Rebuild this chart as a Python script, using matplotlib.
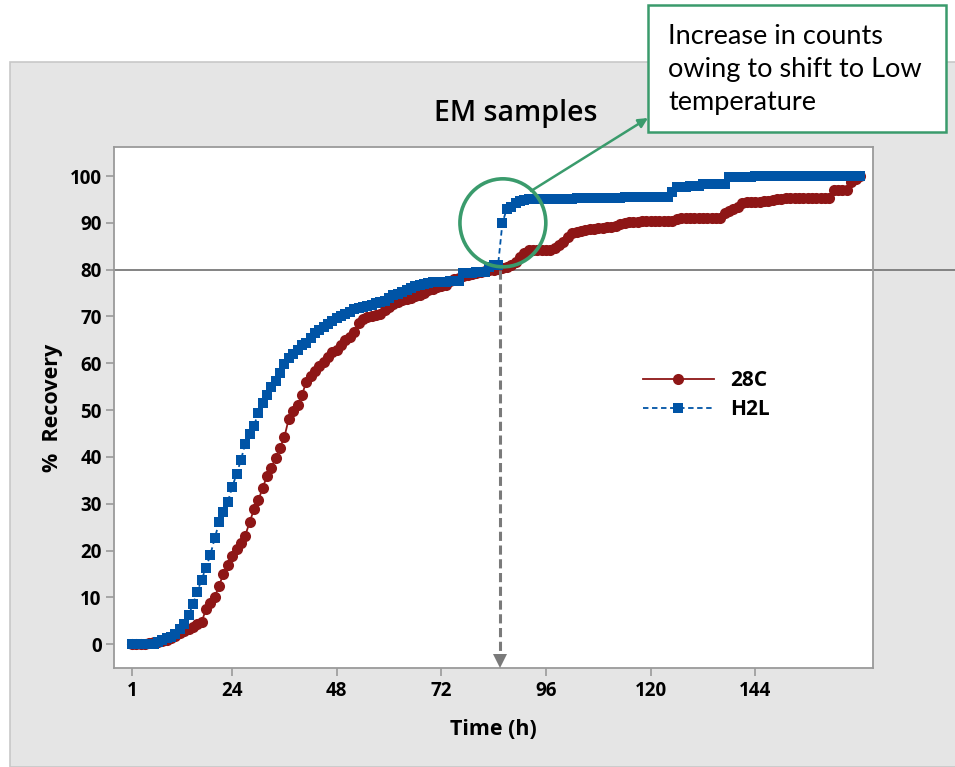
import numpy as np
import matplotlib
matplotlib.use("Agg")
import matplotlib.pyplot as plt
from matplotlib.patches import Rectangle, Ellipse, FancyArrowPatch

# hourly cumulative recovery (%) for the two EM sample conditions
hours = np.arange(1, 169)

rec_28c = [
    0.0, 0.0, 0.0, 0.0, 0.2, 0.4, 0.5, 0.7, 0.9, 1.3, 1.8, 2.3,
    2.8, 3.2, 3.6, 4.4, 4.7, 7.5, 8.8, 10.0, 12.5, 15.0, 17.0, 18.8,
    20.3, 21.6, 23.2, 26.0, 28.8, 30.7, 33.4, 35.9, 37.7, 39.8, 42.0, 44.3,
    48.2, 49.7, 51.0, 53.2, 56.0, 57.2, 58.3, 59.4, 60.2, 61.3, 62.3, 62.8,
    64.0, 65.0, 65.7, 66.7, 68.6, 69.4, 69.8, 70.0, 70.3, 70.6, 71.3, 72.0,
    72.6, 73.1, 73.5, 73.8, 74.0, 74.3, 74.6, 75.0, 75.6, 75.9, 76.2, 76.5,
    76.8, 77.6, 78.0, 78.3, 78.6, 78.9, 79.1, 79.3, 79.5, 79.7, 79.9, 80.0,
    80.1, 80.3, 80.6, 80.9, 81.6, 82.7, 83.6, 84.1, 84.2, 84.2, 84.2, 84.3,
    84.3, 84.6, 85.2, 85.9, 87.0, 87.8, 88.1, 88.3, 88.5, 88.6, 88.7, 88.8,
    88.9, 89.1, 89.2, 89.4, 89.7, 90.0, 90.2, 90.2, 90.2, 90.3, 90.3, 90.3,
    90.3, 90.3, 90.4, 90.4, 90.4, 90.8, 91.0, 91.0, 91.0, 91.0, 91.0, 91.0,
    91.0, 91.0, 91.0, 91.0, 92.2, 92.5, 92.9, 93.3, 94.3, 94.4, 94.4, 94.5,
    94.5, 94.6, 94.7, 94.8, 95.0, 95.1, 95.2, 95.2, 95.3, 95.3, 95.3, 95.3,
    95.3, 95.3, 95.3, 95.3, 95.3, 97.0, 97.0, 97.0, 97.0, 98.7, 99.4, 100.0,
]

rec_h2l = [
    0.0, 0.0, 0.0, 0.0, 0.0, 0.1, 0.5, 0.9, 1.3, 1.5, 2.2, 3.2,
    4.3, 6.2, 8.5, 11.2, 13.8, 16.3, 19.1, 22.6, 26.0, 28.3, 30.4, 33.5,
    36.3, 39.3, 42.8, 44.8, 46.7, 49.3, 51.6, 53.3, 55.0, 56.3, 58.0, 59.8,
    61.2, 62.0, 62.9, 63.8, 64.4, 65.5, 66.4, 67.1, 67.8, 68.4, 69.1, 69.6,
    70.1, 70.6, 71.0, 71.5, 71.9, 72.0, 72.2, 72.5, 72.8, 73.1, 73.4, 73.9,
    74.6, 74.9, 75.2, 75.6, 76.0, 76.4, 76.7, 77.0, 77.2, 77.3, 77.4, 77.4,
    77.4, 77.5, 77.5, 77.6, 79.2, 79.3, 79.3, 79.4, 79.5, 79.6, 80.6, 80.9,
    81.0, 90.0, 93.0, 93.4, 94.2, 94.6, 94.8, 95.0, 95.0, 95.0, 95.0, 95.0,
    95.0, 95.1, 95.1, 95.1, 95.1, 95.1, 95.2, 95.2, 95.3, 95.4, 95.4, 95.4,
    95.4, 95.4, 95.4, 95.4, 95.4, 95.5, 95.5, 95.5, 95.5, 95.5, 95.5, 95.5,
    95.5, 95.5, 95.5, 95.6, 96.6, 97.6, 97.7, 97.7, 97.8, 97.8, 97.8, 98.2,
    98.3, 98.3, 98.3, 98.4, 98.4, 99.8, 99.8, 99.8, 99.8, 99.8, 99.8, 99.9,
    99.9, 99.9, 99.9, 99.9, 99.9, 99.9, 99.9, 99.9, 99.9, 99.9, 99.9, 99.9,
    99.9, 99.9, 99.9, 99.9, 99.9, 99.9, 99.9, 99.9, 99.9, 99.9, 99.9, 100.0,
]

x_ticks = [1, 24, 48, 72, 96, 120, 144]
y_ticks = [0, 10, 20, 30, 40, 50, 60, 70, 80, 90, 100]

threshold = 80          # recovery level marked across the plot
shift_hour = 85.4       # time when incubation moved to low temperature

RED = "#8e1616"
BLUE = "#0054a6"
GREEN = "#3a9b6c"
FRAME = "#9a9a9a"

plt.rcParams["font.family"] = ["Open Sans", "DejaVu Sans"]

fig = plt.figure(figsize=(9.55, 7.67), dpi=100)

# grey Minitab-style background panel
fig.patches.append(Rectangle((10 / 955, 0), 1.0, 1 - 62 / 767, transform=fig.transFigure,
                             facecolor="#e5e5e5", edgecolor="#c8c8c8", linewidth=1.2, zorder=-5))

ax = fig.add_axes([114 / 955, 1 - 668 / 767, 759 / 955, 521 / 767])
ax.set_facecolor("white")

ax.plot(hours, rec_28c, color=RED, linestyle="-", linewidth=1.3, marker="o",
        markersize=8, markeredgewidth=0, label="28C", zorder=3)
ax.plot(hours, rec_h2l, color=BLUE, linestyle=(0, (3, 2)), linewidth=1.3, marker="s",
        markersize=7.3, markeredgewidth=0, label="H2L", zorder=4)

ax.set_xlim(-3.1, 171)
ax.set_ylim(-5.1, 106.2)
ax.set_xticks(x_ticks)
ax.set_yticks(y_ticks)
ax.tick_params(axis="both", direction="out", length=6, width=1.2, color=FRAME,
               labelsize=13.5, pad=3)
for lbl in ax.get_xticklabels() + ax.get_yticklabels():
    lbl.set_fontweight("bold")
for sp in ax.spines.values():
    sp.set_color(FRAME)
    sp.set_linewidth(1.3)

ax.set_xlabel("Time (h)", fontsize=15.5, fontweight="bold", labelpad=13)
ax.set_ylabel("%  Recovery", fontsize=15.5, fontweight="bold", labelpad=5)
fig.text(516 / 955, 1 - 114 / 767, "EM samples", ha="center", va="center",
         fontsize=20.5, fontweight="semibold")

leg = ax.legend(loc="center left", bbox_to_anchor=(0.697, 0.524), frameon=False,
                handlelength=3.4, handletextpad=0.8, labelspacing=0.4,
                borderpad=0, borderaxespad=0, prop={"size": 15, "weight": "bold"})

# 80 % reference line, running past the right edge of the frame
ax.plot([0, 1.11], [threshold, threshold], transform=ax.get_yaxis_transform(),
        color="#7a7a7a", linewidth=1.3, clip_on=False, zorder=2)

# dashed drop line with arrow head at the time axis
ax.plot([shift_hour, shift_hour], [threshold, -4.0], color="#7a7a7a", linewidth=2.2,
        linestyle=(0, (3, 1.5)), zorder=5)
ax.plot([shift_hour], [-3.6], marker="v", markersize=10, color="#7a7a7a",
        markeredgewidth=0, clip_on=False, zorder=5)

# highlight of the jump in counts
ax.add_patch(Ellipse((86.1, 90), 19.7, 18.8, fill=False, edgecolor=GREEN,
                     linewidth=2.6, zorder=6))

# call-out box with its pointer
fig.patches.append(Rectangle((648 / 955, 1 - 132 / 767), 298 / 955, 127 / 767,
                             transform=fig.transFigure, facecolor="white",
                             edgecolor=GREEN, linewidth=1.8, zorder=5))
fig.text(668 / 955, 1 - 24 / 767, "Increase in counts\nowing to shift to Low\ntemperature",
         ha="left", va="top", fontsize=19.5, family=["Lato", "DejaVu Sans"],
         linespacing=1.4, zorder=6)
fig.add_artist(FancyArrowPatch((531 / 955, 1 - 191 / 767), (648 / 955, 1 - 118 / 767),
                               transform=fig.transFigure, arrowstyle="-|>",
                               mutation_scale=14, color=GREEN, linewidth=1.8,
                               shrinkA=0, shrinkB=0, zorder=7))

fig.savefig("out.png", dpi=100)
